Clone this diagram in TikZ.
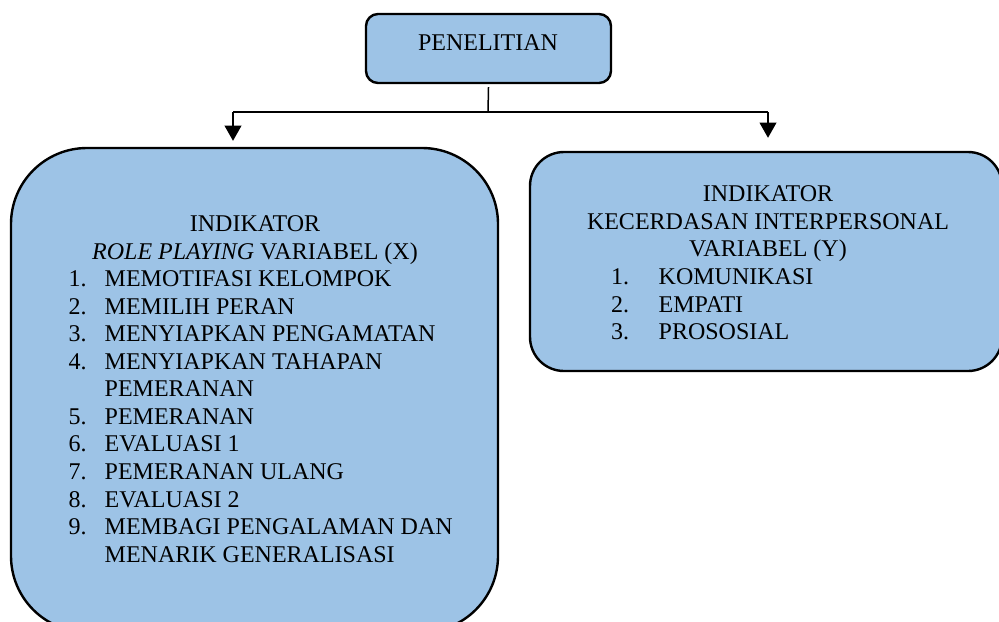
\documentclass[tikz,border=0pt]{standalone}
\usepackage{fontspec}
\setmainfont{Liberation Serif}
\usetikzlibrary{arrows.meta}
\definecolor{boxblue}{RGB}{157,195,230}
\begin{document}
\begin{tikzpicture}[x=0.5pt,y=-0.5pt,
  box/.style={draw=black,line width=1.2pt,fill=boxblue,inner sep=0pt},
  txt/.style={inner sep=0pt,font=\fontsize{12pt}{14pt}\selectfont},
  conn/.style={line width=0.75pt},
  arr/.style={conn,-{Triangle[width=8.4pt,length=7.6pt]}}]
\useasboundingbox (0,0) rectangle (999,621);
\begin{scope}
\clip (0,0) rectangle (999,621);
% boxes
\node[box,rounded corners=6pt,minimum width=122.5pt,minimum height=34.5pt] (top) at (488.5,48.5) {};
\node[box,rounded corners=38pt,minimum width=243.5pt,minimum height=242pt] (lbox) at (254.5,390) {};
\node[box,rounded corners=17pt,minimum width=236pt,minimum height=109.5pt] (rbox) at (766,261.5) {};
% connectors
\coordinate (jn) at (488,112);
\coordinate (jl) at (233,112);
\coordinate (jr) at (768,112);
\draw[conn] ([yshift=-1.5pt]top.south) -- (jn);
\draw[conn] (jl) -- (jr);
\draw[arr,shorten >=3pt] (jl) -- (jl |- lbox.north);
\draw[arr,shorten >=6.5pt] (jr) -- (jr |- rbox.north);
% top text
\node[txt,anchor=base] (ttl) at (488,50.7) {PENELITIAN};
% left text
\node[txt,anchor=base] (lt1) at (255,231.7) {INDIKATOR};
\node[txt,anchor=base] (lt2) at (255,259.3) {\textit{ROLE PLAYING} VARIABEL (X)};
\node[txt,anchor=base west] (ln1) at (68.3,286.5) {1.};
\node[txt,anchor=base west] (li1) at (104.3,286.5) {MEMOTIFASI KELOMPOK};
\node[txt,anchor=base west] (ln2) at (68.3,314) {2.};
\node[txt,anchor=base west] (li2) at (104.3,314) {MEMILIH PERAN};
\node[txt,anchor=base west] (ln3) at (68.3,341.6) {3.};
\node[txt,anchor=base west] (li3) at (104.3,341.6) {MENYIAPKAN PENGAMATAN};
\node[txt,anchor=base west] (ln4) at (68.3,369.3) {4.};
\node[txt,anchor=base west] (li4) at (104.3,369.3) {MENYIAPKAN TAHAPAN};
\node[txt,anchor=base west] (li4b) at (104.3,396.8) {PEMERANAN};
\node[txt,anchor=base west] (ln5) at (68.3,424.3) {5.};
\node[txt,anchor=base west] (li5) at (104.3,424.3) {PEMERANAN};
\node[txt,anchor=base west] (ln6) at (68.3,451.9) {6.};
\node[txt,anchor=base west] (li6) at (104.3,451.9) {EVALUASI 1};
\node[txt,anchor=base west] (ln7) at (68.3,479.4) {7.};
\node[txt,anchor=base west] (li7) at (104.3,479.4) {PEMERANAN ULANG};
\node[txt,anchor=base west] (ln8) at (68.3,507) {8.};
\node[txt,anchor=base west] (li8) at (104.3,507) {EVALUASI 2};
\node[txt,anchor=base west] (ln9) at (68.3,534.5) {9.};
\node[txt,anchor=base west] (li9) at (104.3,534.5) {MEMBAGI PENGALAMAN DAN};
\node[txt,anchor=base west] (li9b) at (104.3,562) {MENARIK GENERALISASI};
% right text
\node[txt,anchor=base] (rt1) at (768,201.7) {INDIKATOR};
\node[txt,anchor=base] (rt2) at (768,229.3) {KECERDASAN INTERPERSONAL};
\node[txt,anchor=base] (rt3) at (768,256.8) {VARIABEL (Y)};
\node[txt,anchor=base west] (rn1) at (610.7,284.3) {1.};
\node[txt,anchor=base west] (ri1) at (658.3,284.3) {KOMUNIKASI};
\node[txt,anchor=base west] (rn2) at (610.7,312) {2.};
\node[txt,anchor=base west] (ri2) at (658.3,312) {EMPATI};
\node[txt,anchor=base west] (rn3) at (610.7,339.7) {3.};
\node[txt,anchor=base west] (ri3) at (658.3,339.7) {PROSOSIAL};
\end{scope}
\end{tikzpicture}
\end{document}
